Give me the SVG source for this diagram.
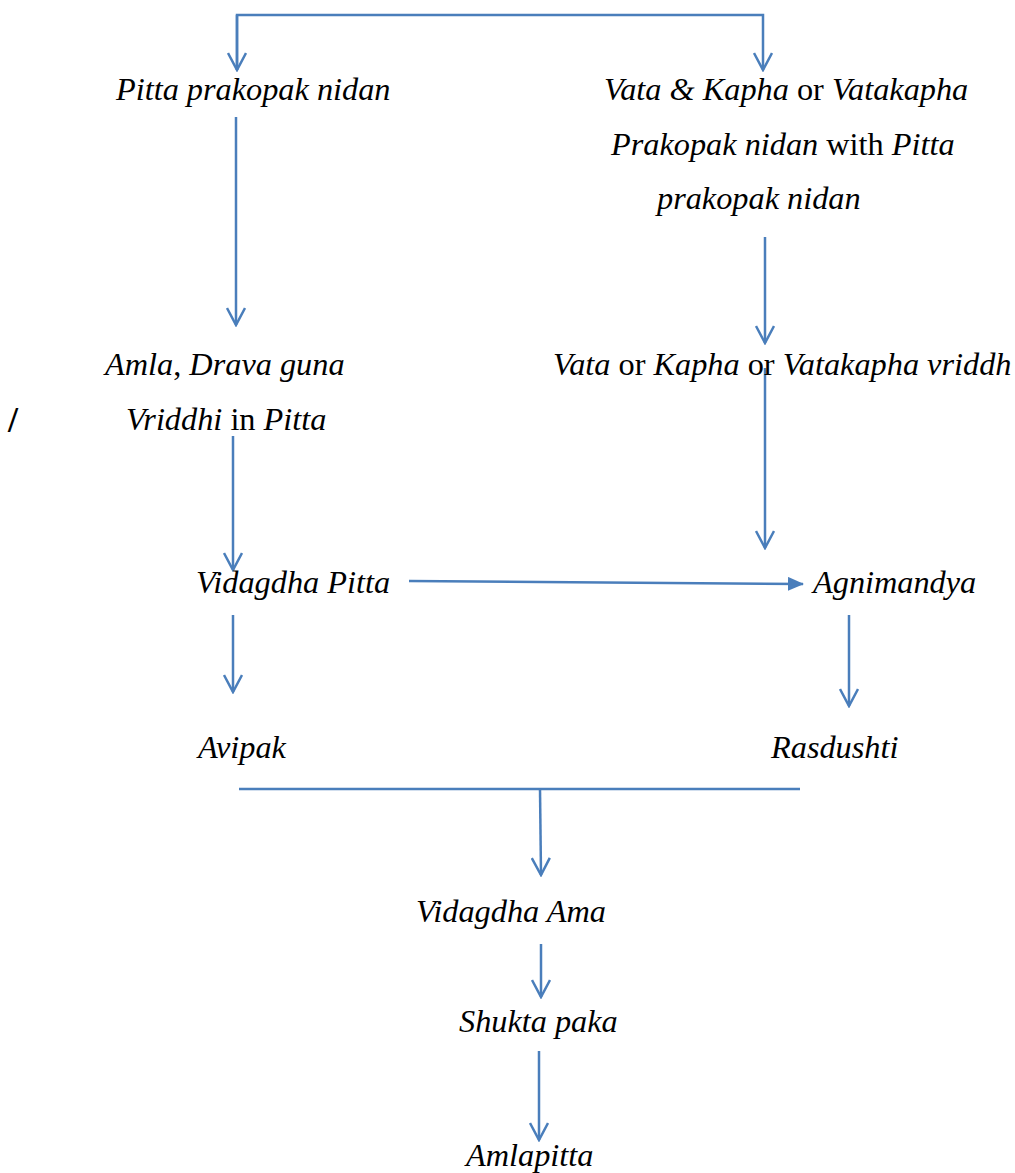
<svg xmlns="http://www.w3.org/2000/svg" width="1015" height="1173" viewBox="0 0 1015 1173">
<defs>
<style>
text{font-family:"Liberation Serif","Times New Roman",serif;font-size:32.3px;font-style:italic;fill:#000}
.r{font-style:normal}
.sl{font-style:normal;font-size:36px;font-weight:bold}
.c{fill:none;stroke:#4a7ebb;stroke-width:2.5}
</style>
<marker id="open" viewBox="0 0 20 20" refX="18" refY="10" markerWidth="20" markerHeight="20" markerUnits="userSpaceOnUse" orient="auto">
<path d="M1,1 L18,10 L1,19" fill="none" stroke="#4a7ebb" stroke-width="2.5"/>
</marker>
<marker id="solid" viewBox="0 0 16 14" refX="15" refY="7" markerWidth="16" markerHeight="14" markerUnits="userSpaceOnUse" orient="auto">
<path d="M0,0 L16,7 L0,14 Z" fill="#4a7ebb"/>
</marker>
</defs>
<rect width="1015" height="1173" fill="#fff"/>
<g id="connectors">
<path class="c" d="M237,70 L237,15 L763,15 L763,70" marker-end="url(#open)"/>
<path class="c" d="M237,15 L237,70" marker-end="url(#open)"/>
<path class="c" d="M236,117 L236,325" marker-end="url(#open)"/>
<path class="c" d="M765,237 L765,343" marker-end="url(#open)"/>
<path class="c" d="M765,368 L765,548" marker-end="url(#open)"/>
<path class="c" d="M233,436 L233,570" marker-end="url(#open)"/>
<path class="c" d="M409,581 L803,584" marker-end="url(#solid)"/>
<path class="c" d="M233,615 L233,692" marker-end="url(#open)"/>
<path class="c" d="M849,615 L849,706" marker-end="url(#open)"/>
<path class="c" d="M239,789 L800,789"/>
<path class="c" d="M540,789 L541,875" marker-end="url(#open)"/>
<path class="c" d="M541,944 L541,997" marker-end="url(#open)"/>
<path class="c" d="M539,1051 L539,1140" marker-end="url(#open)"/>
</g>
<g id="n1"><text x="116" y="100">Pitta prakopak nidan</text></g>
<g id="n2">
<text x="604" y="100">Vata &amp; Kapha <tspan class="r">or</tspan> Vatakapha</text>
<text x="611" y="155">Prakopak nidan <tspan class="r">with</tspan> Pitta</text>
<text x="657" y="209">prakopak nidan</text>
</g>
<g id="n3">
<text x="105" y="375">Amla<tspan class="r">,</tspan> Drava guna</text>
<text x="126" y="430">Vriddhi <tspan class="r">in</tspan> Pitta</text>
</g>
<g id="slash"><text class="sl" x="8" y="432">/</text></g>
<g id="n4"><text x="553" y="375">Vata <tspan class="r">or</tspan> Kapha <tspan class="r">or</tspan> Vatakapha vriddh</text></g>
<g id="n5"><text x="196" y="593">Vidagdha Pitta</text></g>
<g id="n6"><text x="813" y="593">Agnimandya</text></g>
<g id="n7"><text x="198" y="758">Avipak</text></g>
<g id="n8"><text x="771" y="758">Rasdushti</text></g>
<g id="n9"><text x="416" y="922">Vidagdha Ama</text></g>
<g id="n10"><text x="459" y="1032">Shukta paka</text></g>
<g id="n11"><text x="466" y="1166">Amlapitta</text></g>
</svg>
